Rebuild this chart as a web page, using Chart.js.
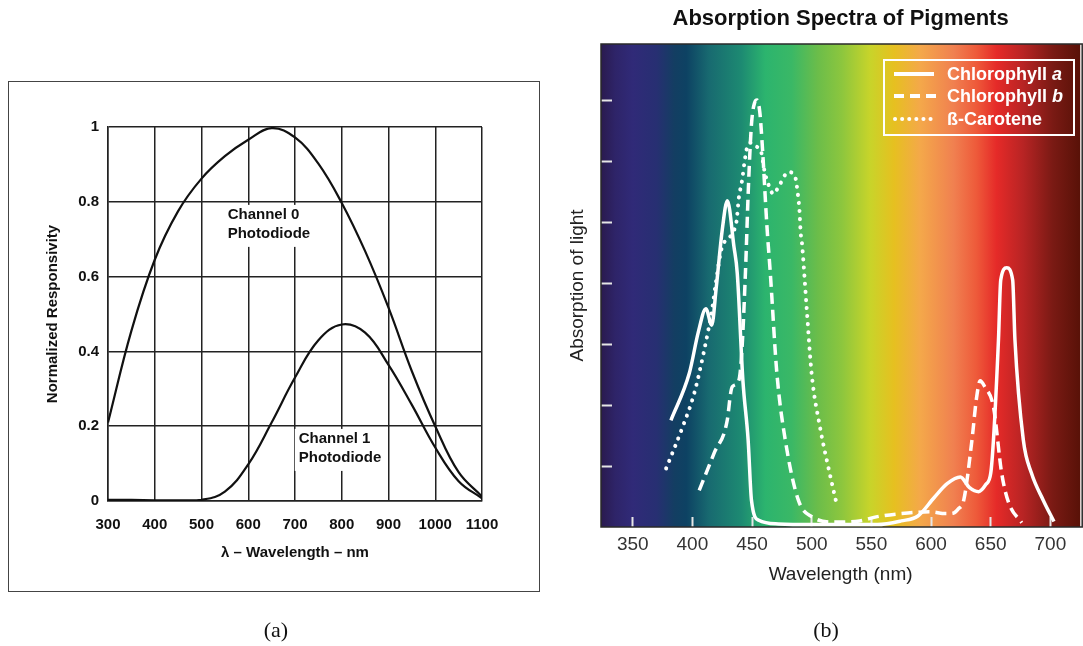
<!DOCTYPE html>
<html>
<head>
<meta charset="utf-8" />
<title>Photodiode responsivity and pigment absorption</title>
<script src="https://cdn.jsdelivr.net/npm/chart.js"></script>
<style>
    body { margin: 0; background: #fff; width: 1083px; height: 646px; position: relative; overflow: hidden; font-family: "Liberation Sans", Arial, sans-serif; }
    #frameA { position: absolute; left: 8px; top: 81px; width: 532px; height: 511px; border: 1.5px solid #444; box-sizing: border-box; }
    #boxA { position: absolute; left: 0; top: 60px; width: 560px; height: 560px; }
    #boxB { position: absolute; left: 540px; top: 0; width: 543px; height: 646px; }
    .cap { position: absolute; top: 617px; width: 60px; text-align: center; font-family: "Liberation Serif", "Times New Roman", serif; font-size: 22px; line-height: 26px; color: #111; }
    #legendB { position: absolute; left: 883px; top: 59px; width: 192px; height: 77px; border: 2px solid #fff; box-sizing: border-box; }
    #legendB .row { position: absolute; left: 7px; height: 22px; display: flex; align-items: center; color: #fff; font-weight: bold; font-size: 18px; white-space: nowrap; }
    #legendB svg { margin-right: 11px; }
</style>
</head>
<body>
<div id="frameA"></div>
<div id="boxA"><canvas id="chartA"></canvas></div>
<div id="boxB"><canvas id="chartB"></canvas></div>
<div id="legendB">
    <div class="row" style="top: 2px;"><svg width="44" height="10"><line x1="2" y1="5" x2="42" y2="5" stroke="#fff" stroke-width="4" /></svg><span>Chlorophyll <i>a</i></span></div>
    <div class="row" style="top: 24px;"><svg width="44" height="10"><line x1="2" y1="5" x2="44" y2="5" stroke="#fff" stroke-width="4" stroke-dasharray="10 6" /></svg><span>Chlorophyll <i>b</i></span></div>
    <div class="row" style="top: 47px;"><svg width="44" height="10"><line x1="3" y1="5" x2="42" y2="5" stroke="#fff" stroke-width="4" stroke-linecap="round" stroke-dasharray="0.1 7" /></svg><span>ß-Carotene</span></div>
</div>
<div class="cap" style="left: 246px;">(a)</div>
<div class="cap" style="left: 796px;">(b)</div>

<script>
    // (a) photodiode responsivity
    const wavelengthsA = [300, 350, 400, 450, 500, 550, 600, 650, 700, 750, 800, 850, 900, 950, 1000, 1050, 1100];
    const channel0 = [0.21, 0.455, 0.645, 0.775, 0.862, 0.922, 0.966, 0.997, 0.972, 0.902, 0.797, 0.668, 0.517, 0.347, 0.2, 0.077, 0.012];
    const channel1 = [0.003, 0.003, 0.002, 0.002, 0.003, 0.025, 0.098, 0.21, 0.33, 0.43, 0.472, 0.45, 0.364, 0.257, 0.143, 0.053, 0.007];
    const xTicksA = [300, 400, 500, 600, 700, 800, 900, 1000, 1100];
    const yTicksA = [0, 0.2, 0.4, 0.6, 0.8, 1];

    // (b) pigment absorption (arbitrary units)
    const chlAWl = [382, 397.4, 405, 411.3, 416.2, 420, 425, 429.3, 434.8, 437.6, 442.3, 446.7, 449.5, 455.6, 472, 500, 530, 555, 575, 589, 602.5, 613.5, 624.6, 632, 640, 646, 650, 652.3, 656.5, 658.4, 663.4, 668.4, 670.3, 677.3, 684.2, 694, 703];
    const chlA = [1.75, 2.52, 3.2, 3.58, 3.31, 3.93, 4.87, 5.35, 4.6, 4.16, 2.41, 1.43, 0.44, 0.11, 0.05, 0.04, 0.04, 0.04, 0.1, 0.18, 0.48, 0.71, 0.82, 0.65, 0.58, 0.7, 0.88, 1.43, 3.07, 4.05, 4.25, 4.05, 3.07, 1.43, 0.88, 0.44, 0.09];
    const chlBWl = [405.7, 418.2, 429.2, 432, 433.4, 439, 441.5, 444.5, 447, 449.5, 452, 454.2, 456.5, 458.3, 462.5, 465.3, 470.8, 477.8, 488.8, 500, 520, 540, 555, 575, 599.4, 612, 619, 623, 627.4, 634.3, 638, 641.2, 645, 652.3, 659.2, 665, 676];
    const chlB = [0.6, 1.21, 1.75, 2.19, 2.3, 2.41, 2.9, 4.2, 5.6, 6.6, 6.95, 7.0, 6.8, 6.34, 4.92, 4.16, 2.52, 1.43, 0.44, 0.17, 0.08, 0.1, 0.17, 0.22, 0.25, 0.22, 0.23, 0.3, 0.44, 1.43, 2.1, 2.4, 2.3, 1.97, 0.88, 0.4, 0.07];
    const caroWl = [378, 391.8, 401.5, 409.9, 416.8, 419.6, 425, 436.7, 439, 441.7, 443.7, 445.9, 449, 453, 458.3, 459.7, 464, 468, 472.2, 480.5, 486.1, 488.3, 489.7, 490.8, 491.6, 495.7, 499.9, 506.9, 513.8, 520.7];
    const carotene = [0.96, 1.64, 2.19, 2.9, 3.61, 4.0, 4.6, 4.98, 5.41, 5.69, 5.99, 6.23, 6.3, 6.25, 6.1, 5.91, 5.6, 5.46, 5.58, 5.82, 5.74, 5.47, 5.2, 4.81, 4.7, 3.61, 2.52, 1.64, 0.99, 0.39];
    const xTicksB = [350, 400, 450, 500, 550, 600, 650, 700];
    const yTicksB = [1, 2, 3, 4, 5, 6, 7];

    const sans = '"Liberation Sans", Arial, sans-serif';

    const notes = [
        { x: 556, y: 0.765, lines: ['Channel 0', 'Photodiode'] },
        { x: 708, y: 0.166, lines: ['Channel 1', 'Photodiode'] },
    ];

    const notesPlugin = {
        id: 'notes',
        beforeDatasetsDraw(chart) {
            const { ctx, scales: { x, y } } = chart;
            ctx.save();
            ctx.font = 'bold 15px ' + sans;
            ctx.textBaseline = 'middle';
            ctx.textAlign = 'left';
            notes.forEach(n => {
                const px = x.getPixelForValue(n.x);
                const py = y.getPixelForValue(n.y);
                const w = Math.max(...n.lines.map(t => ctx.measureText(t).width));
                ctx.fillStyle = '#fff';
                ctx.fillRect(px - 4, py - 10, w + 8, 19 * (n.lines.length - 1) + 23);
                ctx.fillStyle = '#111';
                n.lines.forEach((t, i) => ctx.fillText(t, px, py + i * 19));
            });
            ctx.restore();
        }
    };

    new Chart(document.getElementById('chartA'), {
        type: 'line',
        data: {
            datasets: [{
                label: 'Channel 0',
                data: wavelengthsA.map((w, i) => ({ x: w, y: channel0[i] })),
                borderColor: '#111',
                borderWidth: 2.2,
            }, {
                label: 'Channel 1',
                data: wavelengthsA.map((w, i) => ({ x: w, y: channel1[i] })),
                borderColor: '#111',
                borderWidth: 2.2,
            }]
        },
        options: {
            responsive: true,
            maintainAspectRatio: false,
            animation: false,
            layout: { padding: { left: 38, top: 67, right: 78, bottom: 49 } },
            elements: { point: { radius: 0 }, line: { tension: 0.4 } },
            plugins: { legend: { display: false }, tooltip: { enabled: false } },
            scales: {
                x: {
                    type: 'linear', min: 300, max: 1100,
                    afterBuildTicks: s => { s.ticks = xTicksA.map(v => ({ value: v })); },
                    afterFit: s => { s.height = 70; },
                    grid: { color: '#222', lineWidth: 1.5, drawTicks: false },
                    border: { color: '#222', width: 1.5 },
                    ticks: { padding: 15, color: '#111', font: { family: sans, size: 15, weight: 'bold' }, callback: v => String(v) },
                    title: { display: true, text: 'λ – Wavelength – nm', color: '#111', font: { family: sans, size: 15, weight: 'bold' }, padding: { top: 4, bottom: 9 } }
                },
                y: {
                    min: 0, max: 1,
                    afterBuildTicks: s => { s.ticks = yTicksA.map(v => ({ value: v })); },
                    afterFit: s => { s.width = 70; },
                    grid: { color: '#222', lineWidth: 1.5, drawTicks: false },
                    border: { color: '#222', width: 1.5 },
                    ticks: { padding: 9, color: '#111', font: { family: sans, size: 15, weight: 'bold' }, callback: v => String(v) },
                    title: { display: true, text: 'Normalized Responsivity', color: '#111', font: { family: sans, size: 15, weight: 'bold' }, padding: { top: 6, bottom: 4 } }
                }
            }
        },
        plugins: [notesPlugin]
    });

    // colour of the visible spectrum behind panel (b)
    const spectrumStops = [
        [323, '#2a1a4e'], [335, '#2e2468'], [350, '#302a78'], [370, '#272f72'], [385, '#133e62'],
        [395, '#0d4263'], [414, '#186a70'], [441, '#1d8a72'], [461, '#2cb46e'], [483, '#3ab866'],
        [505, '#6bbd4a'], [525, '#8cc63e'], [549, '#c8d42a'], [569, '#e6c020'], [591, '#f4a84a'],
        [619, '#f08050'], [638, '#ee5a3a'], [655, '#e52a28'], [677, '#b82424'], [702, '#7a1a14'], [724, '#5a1208']
    ];

    const spectrumPlugin = {
        id: 'spectrum',
        beforeDraw(chart) {
            const { ctx, chartArea: a, scales: { x } } = chart;
            const g = ctx.createLinearGradient(a.left, 0, a.right, 0);
            spectrumStops.forEach(([wl, c]) => {
                const t = (x.getPixelForValue(wl) - a.left) / (a.right - a.left);
                g.addColorStop(Math.min(1, Math.max(0, t)), c);
            });
            ctx.save();
            ctx.fillStyle = g;
            ctx.fillRect(a.left, a.top, a.right - a.left, a.bottom - a.top);
            ctx.restore();
        },
        beforeDatasetsDraw(chart) {
            const { ctx, chartArea: a } = chart;
            ctx.save();
            ctx.strokeStyle = '#2a2a2a';
            ctx.lineWidth = 1.5;
            ctx.strokeRect(a.left, a.top, a.right - a.left + 2, a.bottom - a.top);
            ctx.restore();
        }
    };

    const whiteLine = { borderColor: '#fff', borderWidth: 3.5 };

    new Chart(document.getElementById('chartB'), {
        type: 'line',
        data: {
            datasets: [{
                label: 'Chlorophyll a',
                data: chlAWl.map((w, i) => ({ x: w, y: chlA[i] })),
                ...whiteLine,
            }, {
                label: 'Chlorophyll b',
                data: chlBWl.map((w, i) => ({ x: w, y: chlB[i] })),
                ...whiteLine,
                borderDash: [11, 6],
            }, {
                label: 'ß-Carotene',
                data: caroWl.map((w, i) => ({ x: w, y: carotene[i] })),
                ...whiteLine,
                borderWidth: 4,
                borderDash: [0.1, 8],
                borderCapStyle: 'round',
            }]
        },
        options: {
            responsive: true,
            maintainAspectRatio: false,
            animation: false,
            layout: { padding: { left: 20, top: 0, right: 0, bottom: 49 } },
            elements: { point: { radius: 0 }, line: { cubicInterpolationMode: 'monotone' } },
            plugins: {
                legend: { display: false },
                tooltip: { enabled: false },
                title: {
                    display: true, fullSize: false,
                    text: 'Absorption Spectra of Pigments',
                    color: '#111',
                    font: { family: sans, size: 22, weight: 'bold' },
                    padding: { top: 6, bottom: 11.6 }
                }
            },
            scales: {
                x: {
                    type: 'linear', min: 323.4, max: 725,
                    afterBuildTicks: s => { s.ticks = xTicksB.map(v => ({ value: v })); },
                    afterFit: s => { s.height = 70; },
                    grid: { drawOnChartArea: false, drawTicks: true, tickLength: -10, tickColor: '#e6e6e6', tickWidth: 2 },
                    border: { display: false },
                    ticks: { padding: 16.6, color: '#333', font: { family: sans, size: 19 } },
                    title: { display: true, text: 'Wavelength (nm)', color: '#222', font: { family: sans, size: 19 }, padding: { top: 4, bottom: 10.6 } }
                },
                y: {
                    min: 0, max: 7.92,
                    afterBuildTicks: s => { s.ticks = yTicksB.map(v => ({ value: v })); },
                    afterFit: s => { s.width = 41; },
                    grid: { drawOnChartArea: false, drawTicks: true, tickLength: -11, tickColor: '#e6e6e6', tickWidth: 2 },
                    border: { display: false },
                    ticks: { display: false },
                    title: { display: true, text: 'Absorption of light', color: '#222', font: { family: sans, size: 19 }, padding: { top: 6.6, bottom: 4 } }
                }
            }
        },
        plugins: [spectrumPlugin]
    });
</script>
</body>
</html>
